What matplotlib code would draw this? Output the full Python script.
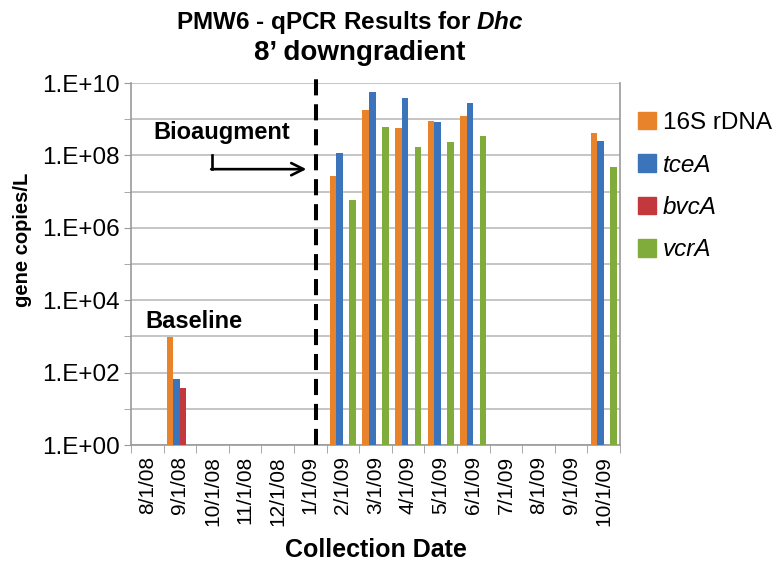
import numpy as np
import matplotlib.pyplot as plt
from matplotlib.patches import Patch

plt.rcParams['font.family'] = ['Liberation Sans', 'DejaVu Sans']
plt.rcParams['mathtext.fontset'] = 'custom'
plt.rcParams['mathtext.it'] = 'Liberation Sans:italic:bold'
plt.rcParams['mathtext.rm'] = 'Liberation Sans:bold'

dates = ["8/1/08", "9/1/08", "10/1/08", "11/1/08", "12/1/08", "1/1/09", "2/1/09",
         "3/1/09", "4/1/09", "5/1/09", "6/1/09", "7/1/09", "8/1/09", "9/1/09", "10/1/09"]
nan = np.nan
rdna16s = [nan, 9.5e2, nan, nan, nan, nan, 2.7e7, 1.8e9, 5.7e8, 9.0e8, 1.2e9, nan, nan, nan, 4.2e8]
tcea = [nan, 66, nan, nan, nan, nan, 1.2e8, 5.6e9, 3.9e9, 8.3e8, 2.8e9, nan, nan, nan, 2.5e8]
bvca = [nan, 37, nan, nan, nan, nan, nan, nan, nan, nan, nan, nan, nan, nan, nan]
vcra = [nan, nan, nan, nan, nan, nan, 5.9e6, 6.0e8, 1.7e8, 2.3e8, 3.4e8, nan, nan, nan, 4.8e7]

series = [("16S rDNA", rdna16s, "#E8832C", "normal"),
          ("tceA", tcea, "#3B74BA", "italic"),
          ("bvcA", bvca, "#C2383C", "italic"),
          ("vcrA", vcra, "#80AC3C", "italic")]

fig = plt.figure(figsize=(7.76, 5.68), dpi=100)
ax = fig.add_axes([131/776, 1-445/568, (620-131)/776, (445-83)/568])

x = np.arange(len(dates))
w = 0.2
for k, (name, vals, col, st) in enumerate(series):
    v = np.array(vals, dtype=float)
    m = ~np.isnan(v)
    ax.bar(x[m] + (k - 1.5) * w, v[m], width=w, bottom=1, color=col, zorder=3)

ax.set_yscale('log')
ax.set_ylim(1, 1e10)
ax.set_xlim(-0.5, len(dates) - 0.5)
ax.set_yticks([10.0**p for p in range(0, 11, 2)])
ax.set_yticklabels(["1.E+%02d" % p for p in range(0, 11, 2)], fontsize=17.5)
ax.set_yticks([10.0**p for p in range(1, 11, 2)], minor=True)
ax.yaxis.set_minor_formatter(plt.NullFormatter())
ax.tick_params(axis='y', which='both', length=5, color='#999999', direction='out', pad=3)
ax.grid(axis='y', which='both', color='#BBBBBB', lw=1.2, zorder=0)

ax.set_xticks(x)
ax.set_xticklabels(dates, rotation=90, fontsize=15)
ax.set_xticks(np.arange(-0.5, len(dates)), minor=True)
ax.tick_params(axis='x', which='major', length=0, pad=8)
ax.tick_params(axis='x', which='minor', length=6, color='#999999', direction='out')

for s in ax.spines.values():
    s.set_color('#999999')
    s.set_linewidth(1.2)
ax.spines['top'].set_visible(False)

ax.set_ylabel("gene copies/L", fontsize=14.5, fontweight='bold')
ax.yaxis.set_label_coords(-0.202, 0.566)
ax.set_xlabel("Collection Date", fontsize=18, fontweight='bold', labelpad=9)

# bioaugmentation line
ax.plot([5.19, 5.19], [1, 10**10.28], color='black', lw=2.9, dashes=(4, 2.2),
        clip_on=False, zorder=4)
ax.plot([1.99, 1.99], [10**8.02, 10**7.62], color='black', lw=1.9, zorder=4)
ax.annotate('', xy=(4.88, 10**7.62), xytext=(1.96, 10**7.62),
            arrowprops=dict(arrowstyle='->', lw=1.9, color='black',
                            mutation_scale=22, shrinkA=0, shrinkB=0), zorder=4)
ax.text(2.27, 10**8.62, "Bioaugment", fontsize=17, fontweight='bold',
        ha='center', va='center', zorder=5)
ax.text(1.44, 10**3.40, "Baseline", fontsize=17, fontweight='bold',
        ha='center', va='center', zorder=5)

fig.text(350/776, 1-29/568, "PMW6 - qPCR Results for $Dhc$", fontsize=17.5,
         fontweight='bold', ha='center', va='baseline')
fig.text(360/776, 1-60/568, "8\u2019 downgradient", fontsize=20,
         fontweight='bold', ha='center', va='baseline')

handles = [Patch(facecolor=c, edgecolor=c) for _, _, c, _ in series]
leg = fig.legend(handles, [s[0] for s in series], loc='upper left',
                 bbox_to_anchor=(638/776, 1-112/568), frameon=False, fontsize=17.5,
                 handlelength=0.72, handleheight=0.72, handletextpad=0.3,
                 labelspacing=0.8, borderpad=0, borderaxespad=0)
for t, s in zip(leg.get_texts(), series):
    t.set_fontstyle(s[3])

fig.savefig("out.png", dpi=100)
